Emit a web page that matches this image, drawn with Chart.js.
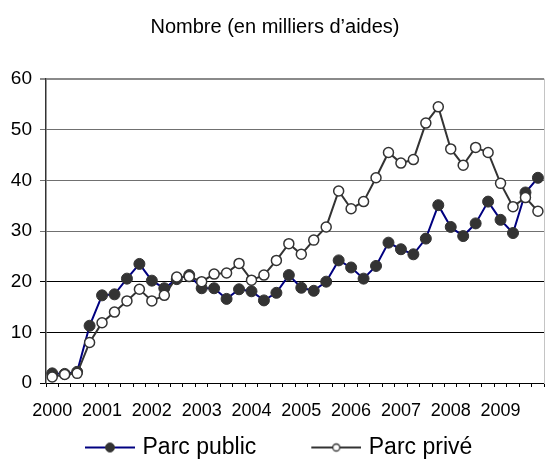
<!DOCTYPE html>
<html lang="fr">
<head>
<meta charset="utf-8">
<title>Nombre (en milliers d’aides)</title>
<script src="https://cdn.jsdelivr.net/npm/chart.js@4"></script>
<style>
  html, body { margin: 0; padding: 0; background: #fff; }
  canvas { display: block; }
</style>
</head>
<body>
<canvas id="aidesChart" width="551" height="460"></canvas>
<script>
// Aides au logement par trimestre, 2000-2009 (milliers)
// Parc public (points pleins) vs parc privé (points creux)

const quarters = [
  '2000T1', '2000T2', '2000T3', '2000T4', '2001T1', '2001T2', '2001T3', '2001T4',
  '2002T1', '2002T2', '2002T3', '2002T4', '2003T1', '2003T2', '2003T3', '2003T4',
  '2004T1', '2004T2', '2004T3', '2004T4', '2005T1', '2005T2', '2005T3', '2005T4',
  '2006T1', '2006T2', '2006T3', '2006T4', '2007T1', '2007T2', '2007T3', '2007T4',
  '2008T1', '2008T2', '2008T3', '2008T4', '2009T1', '2009T2', '2009T3', '2009T4'
];

const parcPublic = [
  1.9, 1.8, 2.2, 11.3, 17.3, 17.5, 20.6, 23.5, 20.2, 18.7,
  20.5, 21.3, 18.7, 18.7, 16.6, 18.5, 18.1, 16.3, 17.8, 21.3,
  18.8, 18.2, 20.0, 24.2, 22.8, 20.6, 23.1, 27.7, 26.4, 25.4,
  28.5, 35.1, 30.8, 29.0, 31.5, 35.8, 32.2, 29.6, 37.6, 40.5
];

const parcPrive = [
  1.2, 1.7, 1.9, 8.0, 11.9, 14.0, 16.2, 18.5, 16.2, 17.3,
  20.9, 21.0, 20.0, 21.5, 21.7, 23.6, 20.3, 21.3, 24.2, 27.5,
  25.4, 28.2, 30.8, 37.9, 34.4, 35.8, 40.5, 45.5, 43.4, 44.1,
  51.3, 54.5, 46.2, 43.0, 46.5, 45.5, 39.4, 34.8, 36.6, 33.9
];

const yTicks = [0, 10, 20, 30, 40, 50, 60];

const SERIES = {
  public: { label: 'Parc public', line: '#000080', dot: '#333333', fill: '#333333' },
  prive:  { label: 'Parc privé',  line: '#333333', dot: '#333333', fill: '#ffffff' }
};

Chart.defaults.font.family = "'Liberation Sans', Arial, sans-serif";
Chart.defaults.color = '#000';

// legend swatch: short line with the marker in the middle (Excel style)
function legendSwatch(style, radius, border) {
  const c = document.createElement('canvas');
  c.width = 103;
  c.height = 14;
  const g = c.getContext('2d');
  g.strokeStyle = style.line;
  g.lineWidth = 2;
  g.beginPath();
  g.moveTo(c.width - 50, 7);
  g.lineTo(c.width, 7);
  g.stroke();
  g.beginPath();
  g.arc(c.width - 25, 7, radius, 0, Math.PI * 2);
  g.fillStyle = style.fill;
  g.fill();
  g.lineWidth = border;
  g.strokeStyle = style.dot;
  g.stroke();
  return c;
}

const swatches = {
  public: legendSwatch(SERIES.public, 4.5, 1),
  prive: legendSwatch(SERIES.prive, 3.5, 1.3)
};

function gridColor(ctx) {
  const v = ctx.tick && ctx.tick.value;
  if (v === 60) return '#8a8a8a';
  if (v >= 30) return '#707070';
  return '#000';
}

// legend is full width, but the Excel one starts a bit further right
const legendOffset = {
  id: 'legendOffset',
  afterLayout(chart) {
    if (chart.legend) chart.legend.left = 30;
  }
};

const ctx = document.getElementById('aidesChart').getContext('2d');
new Chart(ctx, {
  type: 'line',
  plugins: [legendOffset],
  data: {
    labels: quarters,
    datasets: [
      {
        label: SERIES.public.label,
        data: parcPublic,
        borderColor: SERIES.public.line,
        borderWidth: 2,
        pointRadius: 5.5,
        pointBackgroundColor: SERIES.public.fill,
        pointBorderColor: SERIES.public.dot,
        pointBorderWidth: 1,
        tension: 0,
        order: 2
      },
      {
        label: SERIES.prive.label,
        data: parcPrive,
        borderColor: SERIES.prive.line,
        borderWidth: 2,
        pointRadius: 5,
        pointBackgroundColor: SERIES.prive.fill,
        pointBorderColor: SERIES.prive.dot,
        pointBorderWidth: 1.5,
        tension: 0,
        order: 1
      }
    ]
  },
  options: {
    responsive: false,
    animation: false,
    events: [],
    layout: { padding: { left: 0, right: 1, top: 0, bottom: 0 } },
    plugins: {
      title: {
        display: true,
        text: 'Nombre (en milliers d’aides)',
        color: '#000',
        font: { size: 20, weight: 'normal' },
        padding: { top: 15, bottom: 40 }
      },
      legend: {
        display: true,
        position: 'bottom',
        align: 'start',
        maxHeight: 30,
        labels: {
          usePointStyle: true,
          pointStyleWidth: 95,
          padding: 6,
          color: '#000',
          font: { size: 23 },
          generateLabels: () => [
            { text: SERIES.public.label, pointStyle: swatches.public, datasetIndex: 0, lineWidth: 0, fillStyle: 'transparent', strokeStyle: 'transparent' },
            { text: SERIES.prive.label, pointStyle: swatches.prive, datasetIndex: 1, lineWidth: 0, fillStyle: 'transparent', strokeStyle: 'transparent' }
          ]
        }
      },
      tooltip: { enabled: false }
    },
    scales: {
      x: {
        type: 'category',
        offset: true,
        afterFit: scale => { scale.height = 47; },
        grid: {
          display: true,
          offset: true,
          drawOnChartArea: false,
          drawTicks: true,
          tickLength: 4,
          color: '#000'
        },
        border: { display: true, color: '#000', width: 1 },
        ticks: {
          autoSkip: false,
          maxRotation: 0,
          padding: 13,
          color: '#000',
          font: { size: 18 },
          callback: function (value, index) {
            const q = quarters[index];
            return q.endsWith('T1') ? q.slice(0, 4) : '';
          }
        }
      },
      y: {
        position: 'left',
        min: 0,
        max: 60,
        afterFit: scale => { scale.width = 46; },
        afterBuildTicks: scale => { scale.ticks = yTicks.map(v => ({ value: v })); },
        grid: {
          color: gridColor,
          lineWidth: c => (c.tick && c.tick.value === 60 ? 2 : 1),
          drawTicks: true,
          tickLength: 6
        },
        border: { display: true, color: '#333', width: 1.5 },
        ticks: {
          padding: 8,
          color: '#000',
          font: { size: 19 }
        }
      },
      yRight: {
        position: 'right',
        display: true,
        afterFit: scale => { scale.width = 0; },
        grid: { drawOnChartArea: false, drawTicks: false },
        border: { display: true, color: '#c4c4c4', width: 1 },
        ticks: { display: false }
      }
    }
  }
});
</script>
</body>
</html>
